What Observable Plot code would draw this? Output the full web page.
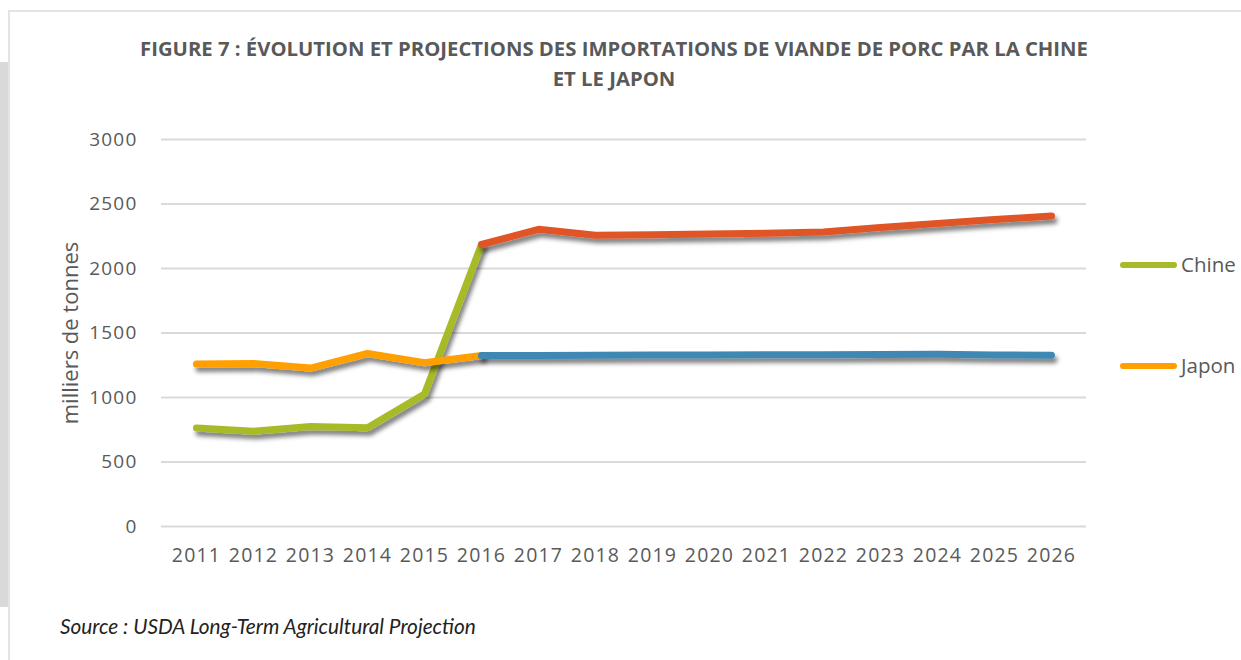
<!DOCTYPE html>
<html>
<head>
<meta charset="utf-8">
<script src="https://cdn.jsdelivr.net/npm/d3@7"></script>
<script src="https://cdn.jsdelivr.net/npm/@observablehq/plot@0.6"></script>
<style>
  html, body { margin: 0; padding: 0; background: #fff; }
  #page { position: relative; width: 1241px; height: 660px; overflow: hidden; background: #fff; }
  #graybar { position: absolute; left: 0; top: 62px; width: 8px; height: 545px; background: #d9d9d9; }
  #vline { position: absolute; left: 8px; top: 11px; width: 2px; height: 660px; background: #e3e3e3; }
  #hline { position: absolute; left: 8px; top: 10px; width: 1233px; height: 2px; background: #e3e3e3; }
  #title { position: absolute; left: 0; top: 33px; width: 1228px; text-align: center;
           font-family: "Open Sans", sans-serif; font-weight: 700; font-size: 20.3px; line-height: 30px; color: #595959; }
  #source { position: absolute; left: 60px; top: 613px; font-family: Lato, sans-serif; font-style: italic;
            font-size: 20.8px; color: #222; }
  #chart { position: absolute; left: 0; top: 0; }
  .leg { position: absolute; left: 1120px; height: 20px; }
  .leg .sw { position: absolute; left: 0; top: 7px; width: 57px; height: 6px; border-radius: 3px; }
  .leg .lb { position: absolute; left: 61px; top: -5px; font-family: "Open Sans", sans-serif; font-size: 20.5px; color: #595959; white-space: nowrap; }
</style>
</head>
<body>
<div id="page">
  <div id="graybar"></div>
  <div id="vline"></div>
  <div id="hline"></div>
  <div id="chart"></div>
  <div id="title">FIGURE 7 : ÉVOLUTION ET PROJECTIONS DES IMPORTATIONS DE VIANDE DE PORC PAR LA CHINE<br>ET LE JAPON</div>
  <div id="legend"></div>
  <div id="source">Source : USDA Long-Term Agricultural Projection</div>
</div>
<script>
const years = ["2011","2012","2013","2014","2015","2016","2017","2018","2019","2020","2021","2022","2023","2024","2025","2026"];
const yTicks = [0, 500, 1000, 1500, 2000, 2500, 3000];

// historical (2011-2016)
const chineHistYears = ["2011","2012","2013","2014","2015","2016"];
const chineHist = [764, 738, 776, 766, 1027, 2186];
const japonHistYears = ["2011","2012","2013","2014","2015","2016"];
const japonHist = [1259, 1264, 1228, 1341, 1269, 1326];

// projections (2016-2026)
const projYears = ["2016","2017","2018","2019","2020","2021","2022","2023","2024","2025","2026"];
const chineProj = [2186, 2304, 2258, 2262, 2268, 2273, 2283, 2317, 2348, 2379, 2407];
const japonProj = [1326, 1326, 1328, 1329, 1330, 1331, 1332, 1333, 1335, 1330, 1328];

const seriesNames = ["Chine", "Japon"];
const colors = {chineHist: "#a8ba28", japonHist: "#ffa000", chineProj: "#e05428", japonProj: "#3f88b4"};

const toRows = (xs, vs) => xs.map((x, i) => ({x, v: vs[i]}));

const lineOpts = (color) => ({x: "x", y: "v", stroke: color, strokeWidth: 7, strokeLinecap: "round", strokeLinejoin: "round"});

const chart = Plot.plot({
  width: 1241,
  height: 660,
  marginLeft: 161,
  marginRight: 155,
  marginTop: 139,
  marginBottom: 134,
  style: {fontFamily: "'Open Sans', sans-serif", fontSize: "19px", color: "#595959", background: "transparent"},
  x: {type: "point", domain: years, padding: 0.5, label: null},
  y: {domain: [0, 3000], label: null},
  marks: [
    Plot.ruleY(yTicks, {stroke: "#d9d9d9", strokeWidth: 2}),
    Plot.axisY({ticks: yTicks, tickSize: 0, tickPadding: 24, label: null, tickFormat: d => String(d), fontSize: 19}),
    Plot.axisX({tickSize: 0, tickPadding: 22, label: null, fontSize: 19.5}),
    Plot.text(["milliers de tonnes"], {frameAnchor: "left", textAnchor: "middle", rotate: -90, dx: -91, fontSize: 22, fill: "#595959"}),
    Plot.line(toRows(chineHistYears, chineHist), lineOpts(colors.chineHist)),
    Plot.line(toRows(projYears, chineProj), lineOpts(colors.chineProj)),
    Plot.line(toRows(japonHistYears, japonHist), lineOpts(colors.japonHist)),
    Plot.line(toRows(projYears, japonProj), lineOpts(colors.japonProj))
  ]
});

const svg = d3.select(chart);
// wider, spaced tick digits
svg.selectAll('g[aria-label="x-axis tick label"] text, g[aria-label="y-axis tick label"] text').attr("letter-spacing", "1.2px");
// drop shadow on lines
svg.insert("defs", ":first-child").html(
  '<filter id="shadow" filterUnits="userSpaceOnUse" x="0" y="0" width="1241" height="660">' +
  '<feDropShadow dx="2.5" dy="4.5" stdDeviation="2.3" flood-color="#000" flood-opacity="0.5"/></filter>');
svg.selectAll('g[aria-label="line"]').attr("filter", "url(#shadow)");

document.getElementById("chart").appendChild(chart);

// legend
const legend = document.getElementById("legend");
const legendColors = [colors.chineHist, colors.japonHist];
const legendTops = [255, 356];
seriesNames.forEach((name, i) => {
  const d = document.createElement("div");
  d.className = "leg";
  d.style.top = legendTops[i] + "px";
  d.innerHTML = `<div class="sw" style="background:${legendColors[i]}"></div><div class="lb">${name}</div>`;
  legend.appendChild(d);
});
</script>
</body>
</html>
